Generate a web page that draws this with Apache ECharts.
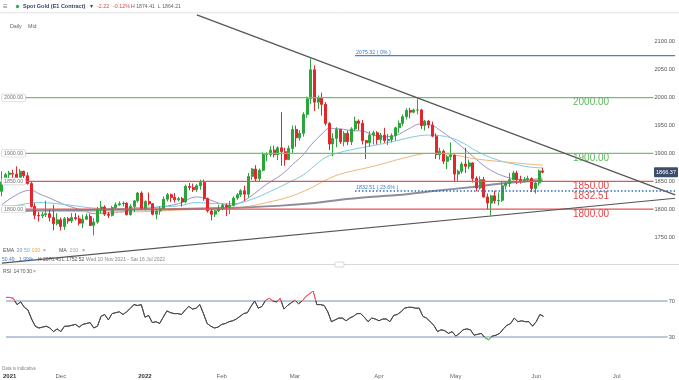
<!DOCTYPE html>
<html><head><meta charset="utf-8">
<script src="https://cdn.jsdelivr.net/npm/echarts@6/dist/echarts.min.js"></script>
<style>html,body{margin:0;padding:0;background:#fff}#c{width:679px;height:380px}</style>
</head><body><div id="c"></div>
<script>
const FONT = '"Liberation Sans", Arial, sans-serif';

// ---- categories: trading weekdays from 10 Nov 2021 ----
const categoryCount = 184;
const dates = [];
(function () {
  const d = new Date(Date.UTC(2021, 10, 10));
  while (dates.length < categoryCount) {
    const wd = d.getUTCDay();
    if (wd !== 0 && wd !== 6) dates.push(d.toISOString().slice(0, 10));
    d.setUTCDate(d.getUTCDate() + 1);
  }
})();
const monthNames = ['Jan','Feb','Mar','Apr','May','Jun','Jul','Aug','Sep','Oct','Nov','Dec'];

// ---- daily candles [open, close, low, high] ----
const candles = [
  // Nov 2021
  [1832,1849,1823,1868],[1849,1862,1846,1865],[1862,1865,1853,1869],[1864,1863,1856,1871],[1863,1851,1849,1877],
  [1851,1868,1850,1872],[1868,1860,1849,1869],[1860,1846,1844,1866],[1846,1805,1803,1850],[1805,1789,1782,1811],
  [1789,1788,1778,1795],[1788,1790,1784,1795],[1790,1792,1786,1815],[1792,1785,1778,1800],[1785,1774,1762,1808],
  // Dec 2021
  [1774,1781,1771,1793],[1781,1769,1762,1785],[1769,1783,1763,1786],[1783,1779,1774,1786],[1779,1785,1775,1793],
  [1785,1783,1780,1793],[1783,1775,1771,1789],[1775,1782,1766,1790],[1782,1787,1781,1792],[1787,1771,1770,1792],
  [1771,1777,1753,1784],[1777,1799,1774,1804],[1799,1804,1793,1815],[1804,1791,1788,1807],[1791,1789,1784,1795],
  [1789,1803,1787,1806],[1803,1808,1801,1812],[1808,1810,1806,1814],[1810,1811,1805,1814],[1811,1790,1789,1812],
  [1790,1805,1789,1809],[1805,1815,1795,1816],[1815,1829,1812,1831],
  // Jan 2022
  [1829,1801,1799,1832],[1801,1814,1798,1816],[1814,1810,1807,1830],[1810,1791,1789,1811],[1791,1797,1782,1800],
  [1797,1801,1790,1805],[1801,1818,1801,1823],[1818,1826,1814,1829],[1826,1821,1813,1828],[1821,1817,1812,1829],
  [1817,1819,1814,1822],[1819,1813,1805,1822],[1813,1841,1811,1844],[1841,1839,1834,1847],[1839,1835,1831,1846],
  [1835,1842,1831,1845],[1842,1848,1835,1853],[1848,1819,1815,1853],[1819,1797,1794,1821],[1797,1791,1780,1800],
  [1791,1797,1786,1799],
  // Feb 2022
  [1797,1801,1795,1808],[1801,1807,1798,1810],[1807,1804,1788,1810],[1804,1807,1791,1815],[1807,1820,1805,1823],
  [1820,1826,1817,1829],[1826,1833,1822,1836],[1833,1827,1815,1842],[1827,1859,1821,1865],[1859,1872,1853,1874],
  [1872,1855,1849,1879],[1855,1870,1850,1873],[1870,1898,1868,1902],[1898,1898,1886,1902],[1898,1906,1894,1913],
  [1906,1898,1893,1914],[1898,1910,1888,1913],[1910,1903,1878,1974],[1903,1889,1878,1910],[1889,1909,1888,1914],
  // Mar 2022
  [1909,1943,1899,1950],[1943,1928,1912,1950],[1928,1936,1923,1942],[1936,1970,1930,1974],[1970,1998,1964,2002],
  [1998,2050,1989,2070.45],[2050,1992,1976,2058],[1992,2000,1980,2004],[2000,1988,1968,2009],[1988,1954,1950,1992],
  [1954,1917,1906,1956],[1917,1927,1895,1936],[1927,1943,1911,1947],[1943,1921,1917,1944],[1921,1936,1913,1940],
  [1936,1921,1915,1941],[1921,1944,1915,1947],[1944,1958,1940,1966],[1958,1954,1942,1961],[1954,1923,1916,1960],
  [1923,1919,1890,1924],[1919,1933,1912,1940],[1933,1937,1916,1941],
  // Apr 2022
  [1937,1925,1916,1940],[1925,1933,1918,1937],[1933,1923,1919,1946],[1923,1925,1915,1935],[1925,1932,1920,1936],
  [1932,1946,1923,1948],[1946,1954,1937,1959],[1954,1966,1949,1970],[1966,1977,1961,1981],[1977,1974,1963,1982],
  [1974,1978,1972,1980],[1978,1978,1970,1998],[1978,1950,1944,1980],[1950,1958,1941,1960],[1958,1951,1945,1960],
  [1951,1931,1929,1957],[1931,1898,1890,1936],[1898,1904,1889,1910],[1904,1886,1881,1907],[1886,1894,1872,1897],
  [1894,1897,1888,1920],
  // May 2022
  [1897,1863,1850,1898],[1863,1868,1850,1871],[1868,1881,1864,1885],[1881,1877,1865,1910],[1877,1883,1872,1889],
  [1883,1855,1848,1884],[1855,1838,1832,1859],[1838,1853,1835,1859],[1853,1822,1821,1858],[1822,1811,1799,1828],
  [1811,1824,1789,1826],[1824,1815,1810,1833],[1815,1816,1807,1830],[1816,1842,1813,1849],[1842,1846,1835,1849],
  [1846,1853,1840,1865],[1853,1865,1852,1869],[1865,1853,1845,1869],[1853,1851,1846,1860],[1851,1853,1848,1858],
  [1853,1855,1850,1860],[1855,1837,1831,1857],
  // Jun 2022
  [1837,1847,1828,1849],[1847,1868.59,1842,1871],[1868.59,1866.37,1864.21,1874.41]
];

// ---- moving averages [categoryIndex, value] ----
const ema20 = [[0,1808],[3,1822],[6,1832],[8,1834],[10,1828],[13,1820],[15,1814],[18,1806],[22,1798],[25,1792],[28,1793],[32,1795],[37,1800],[40,1802],[44,1805],[48,1810],[53,1822],[56,1818],[59,1811],[62,1807],[65,1812],[68,1825],[72,1845],[76,1862],[79,1880],[82,1898],[84,1915],[87,1935],[89,1945],[92,1944],[95,1941],[98,1940],[101,1933],[104,1930],[107,1932],[110,1942],[114,1953],[117,1950],[119,1942],[122,1928],[125,1912],[128,1895],[131,1878],[134,1866],[137,1858],[140,1854],[143,1853],[147,1856]];
const ema50 = [[0,1800],[5,1808],[10,1812],[15,1810],[20,1806],[25,1802],[30,1801],[37,1803],[42,1804],[48,1806],[53,1812],[58,1810],[63,1810],[68,1818],[73,1832],[78,1848],[82,1862],[85,1878],[88,1893],[92,1902],[96,1908],[100,1913],[104,1918],[108,1924],[112,1930],[116,1933],[119,1932],[122,1928],[125,1920],[128,1908],[131,1898],[134,1890],[137,1884],[140,1880],[143,1876],[147,1874]];
const ema100 = [[0,1795],[10,1797],[20,1796],[30,1795],[40,1796],[50,1799],[58,1800],[65,1803],[72,1812],[78,1822],[84,1838],[88,1852],[92,1863],[101,1877],[110,1893],[116,1900],[119,1900],[124,1896],[128,1891],[133,1887],[138,1884],[143,1881],[147,1879]];
const ma200 = [[0,1797],[15,1798],[30,1799],[45,1800],[60,1802],[75,1806],[85,1811],[92,1817],[100,1822],[110,1827],[118,1833],[128,1840],[137,1847],[147,1852]];

// ---- RSI(14) ----
const rsi = [74,74,73,66,69,63,60,50,42,40,41,42,40,36,39,
  36,42,42,43,44,41,44,45,46,40,42,53,55,49,56,57,58,55,58,62,66,65,66,
  52,54,46,47,45,52,59,57,56,56,55,60,64,61,62,66,56,45,42,40,41,
  44,45,47,48,50,53,56,57,64,70,62,64,71,73,70,69,73,61,65,68,
  71,67,70,75,78,81,66,66,65,58,47,49,51,51,48,51,53,56,56,52,47,51,50,
  48,50,50,47,54,55,58,62,63,63,62,62,53,51,47,43,36,38,37,34,36,
  31,34,38,39,38,32,33,34,29,27,31,32,34,39,43,45,51,47,48,47,47,42,
  47,55,53];

// ---- levels & drawings ----
const greenLevels = [2000, 1900];
const redLevels = [1850, 1800];
const fibStartIndex = 96;
const fibLevels = [2075.32, 1832.51];
const fibLabels = ['2075.32 ( 0% )', '1832.51 ( 23.6% )'];
const bigLabels = [[2000,'2000.00','#5cb85c'],[1900,'1900.00','#5cb85c'],[1850,'1850.00','#e2474b'],[1832.51,'1832.51','#e2474b'],[1800,'1800.00','#e2474b']];
const boxedLeftLabels = [2000, 1900, 1850, 1800];
const downTrend = [[53, 2148.5], [183, 1825.7]];
const upTrend = [[0, 1703.5], [183, 1819.7]];
const priceTicks = [1750, 1800, 1850, 1900, 1950, 2000, 2050, 2100];
const rsiBands = [70, 30];

const lastCandle = candles[candles.length - 1];
const lastClose = lastCandle[1];
const lastIdx = categoryCount - 1;

const chart = echarts.init(document.getElementById('c'), null, {renderer: 'canvas'});

const drawLine = (data, color, width, type, z) => ({
  type: 'line', xAxisIndex: 0, yAxisIndex: 0, data: data, showSymbol: false, symbol: 'none',
  itemStyle: {color: color},
  lineStyle: {color: color, width: width, type: type || 'solid', opacity: 1}, silent: true, z: z || 6
});
const maLine = (data, color, width) => Object.assign(drawLine(data, color, width, 'solid', 3), {smooth: 0.4});

const series = [
  {type: 'line', xAxisIndex: 1, yAxisIndex: 1, data: rsi, showSymbol: false, symbol: 'none',
   lineStyle: {width: 1}, silent: true, z: 4},
  {type: 'candlestick', xAxisIndex: 0, yAxisIndex: 0, data: candles, barWidth: 2.5, z: 4,
   itemStyle: {color: '#2ba53b', color0: '#e3262c', borderColor: '#2ba53b', borderColor0: '#e3262c', borderWidth: 1}},
  maLine(ema20, '#9b90c8', 1),
  maLine(ema50, '#7dcbe0', 1),
  maLine(ema100, '#ecb879', 1),
  maLine(ma200, '#8d8d9b', 2)
];
greenLevels.forEach(v => series.push(drawLine([[0, v], [lastIdx, v]], '#6cc46c', 1.2)));
redLevels.forEach(v => series.push(drawLine([[0, v], [lastIdx, v]], '#e25656', 1.2)));
series.push(drawLine([[fibStartIndex, fibLevels[0]], [lastIdx, fibLevels[0]]], '#3f86d6', 1.3));
series.push(drawLine([[fibStartIndex, fibLevels[1]], [lastIdx, fibLevels[1]]], '#2b6cc0', 1.5, [1.5, 2]));
series.push(drawLine(downTrend, '#555', 1.2));
series.push(drawLine(upTrend, '#555', 1.2));
rsiBands.forEach(v => series.push({type: 'line', xAxisIndex: 1, yAxisIndex: 1, data: [[0, v], [lastIdx, v]],
  showSymbol: false, symbol: 'none', silent: true, z: 2, lineStyle: {color: '#b9c9db', width: 2}}));

const option = {
  animation: false,
  backgroundColor: '#fff',
  textStyle: {fontFamily: FONT},
  grid: [
    {left: 0, right: 2, top: 14, height: 251},
    {left: 0, right: 2, top: 274, height: 90}
  ],
  xAxis: [
    {type: 'category', gridIndex: 0, data: dates, boundaryGap: true,
     axisLine: {show: false}, axisTick: {show: false}, axisLabel: {show: false}, splitLine: {show: false}},
    {type: 'category', gridIndex: 1, data: dates, boundaryGap: true,
     axisLine: {show: false}, axisTick: {show: false}, splitLine: {show: false},
     axisLabel: {
       show: true, fontSize: 6, color: '#666', margin: 9, fontFamily: FONT,
       interval: function (i) {
         if (i === 1) return true;
         if (i < 2) return false;
         return dates[i].slice(5, 7) !== dates[i - 1].slice(5, 7);
       },
       formatter: function (v, i) {
         if (i === 1) return '{y|2021}';
         const m = +v.slice(5, 7);
         if (m === 1) return '{y|' + v.slice(0, 4) + '}';
         return monthNames[m - 1];
       },
       rich: {y: {fontSize: 6, fontWeight: 'bold', color: '#333', fontFamily: FONT}}
     }}
  ],
  yAxis: [
    {type: 'value', gridIndex: 0, position: 'right', min: 1700, max: 2150, interval: 50, z: 10,
     axisLine: {show: false}, axisTick: {show: false}, splitLine: {show: false},
     axisLabel: {inside: true, margin: 1, fontSize: 5.7, color: '#555', fontFamily: FONT,
       backgroundColor: '#fff', padding: [0, 1],
       formatter: v => priceTicks.indexOf(v) >= 0 ? v.toFixed(2) : ''}},
    {type: 'value', gridIndex: 1, position: 'right', min: 0, max: 100, interval: 10, z: 10,
     axisLine: {show: false}, axisTick: {show: false}, splitLine: {show: false},
     axisLabel: {inside: true, margin: 1, fontSize: 5.7, color: '#555', fontFamily: FONT,
       backgroundColor: '#fff', padding: [0, 1],
       formatter: v => rsiBands.indexOf(v) >= 0 ? String(v) : ''}}
  ],
  visualMap: {
    type: 'piecewise', show: false, seriesIndex: 0, dimension: 1,
    pieces: [{gt: 70, color: '#ec5c5e'}, {lt: 30, color: '#4cbb4c'}, {gte: 30, lte: 70, color: '#4a4a4a'}]
  },
  series: series
};
chart.setOption(option);

// ---- text overlays positioned through the chart's scales ----
const py = v => chart.convertToPixel({yAxisIndex: 0}, v);
const px = i => chart.convertToPixel({xAxisIndex: 0}, i);
const T = (text, x, y, size, fill, extra) => ({
  type: 'text', z: 100, silent: true,
  style: Object.assign({text: text, x: x, y: y, fontSize: size, fontFamily: FONT, fill: fill,
    align: 'left', verticalAlign: 'middle', textAlign: 'left', textVerticalAlign: 'middle'}, extra || {})
});

const g = [];
// header
g.push({type: 'line', z: 90, silent: true, shape: {x1: 0, y1: 12.8, x2: 679, y2: 12.8}, style: {stroke: '#e2e2e2', lineWidth: 1}});
g.push(T('\u2261', 3, 6.5, 8, '#777'));
g.push({type: 'circle', z: 100, silent: true, shape: {cx: 17.5, cy: 6.5, r: 1.7}, style: {fill: '#2bb24c'}});
g.push(T('Spot Gold (E1 Contract)', 23, 6.5, 5.5, '#2d3f6b', {fontWeight: 'bold'}));
g.push(T('\u25BE', 89.5, 6.8, 6, '#444'));
g.push(T('-2.22', 97, 6.5, 5.4, '#e0474c'));
g.push(T('-0.12%', 113, 6.5, 5.4, '#e0474c'));
g.push(T('H 1874.41  L 1864.21', 131, 6.5, 5.2, '#666'));
g.push(T('Daily', 10, 26.7, 5.3, '#666'));
g.push(T('Mid', 28, 26.7, 5.3, '#666'));

// legends
const L1 = 251, L2 = 260, FS = 5.2;
g.push(T('EMA', 3, L1, FS, '#555'));
g.push(T('20', 16.5, L1, FS, '#8a86b8'));
g.push(T('50', 24, L1, FS, '#4fb6d6'));
g.push(T('100', 31.5, L1, FS, '#eca24a'));
g.push(T('\u00D7', 43, L1, FS, '#777'));
g.push(T('MA', 59, L1, FS, '#555'));
g.push(T('200', 69.5, L1, FS, '#aaa'));
g.push(T('\u00D7', 82, L1, FS, '#777'));
g.push(T('50.49', 2, L2, 5, '#3b7cc9'));
g.push(T('1.99%', 19, L2, 5, '#3b7cc9'));
g.push(T('H 2070.45', 38, L2, 5, '#555'));
g.push(T('L 1752.52', 62, L2, 5, '#555'));
g.push(T('Wed 10 Nov 2021 - Sat 16 Jul 2022', 86, L2, 5, '#888'));
g.push({type: 'line', z: 90, silent: true, shape: {x1: 0, y1: 264.5, x2: 679, y2: 264.5}, style: {stroke: '#d8d8d8', lineWidth: 1}});
g.push({type: 'rect', z: 91, silent: true, shape: {x: 335, y: 262, width: 9, height: 5, r: 1.5}, style: {fill: '#fff', stroke: '#bbb', lineWidth: 0.6}});
g.push(T('RSI', 3, 271.5, 5, '#555'));
g.push(T('14', 13.5, 271.5, 5, '#555'));
g.push(T('70', 20, 271.5, 5, '#555'));
g.push(T('30', 26.5, 271.5, 5, '#555'));
g.push(T('\u00D7', 33, 271.5, 5, '#777'));
g.push(T('Data is indicative', 2, 369, 4.5, '#888'));

// left boxed level labels
boxedLeftLabels.forEach(v => g.push(T(v.toFixed(2), 2, py(v), 5.3, '#777', {
  backgroundColor: '#fff', borderColor: '#c8c8c8', borderWidth: 0.6, borderRadius: 1, padding: [1, 2, 0.5, 2]
})));
// fib labels
fibLevels.forEach((v, i) => g.push(T(fibLabels[i], px(fibStartIndex) + 1, py(v) - 3.5, 5.3, '#3b7cc9')));
// big level labels
bigLabels.forEach(b => g.push(T(b[1], 573, py(b[0]) + 4.8, 10, b[2])));
// current price box
const yp = py(lastClose);
g.push({type: 'rect', z: 100, silent: true, shape: {x: 654, y: yp - 5, width: 24, height: 10, r: 1}, style: {fill: '#3d4e6c'}});
g.push(T(lastClose.toFixed(2), 666, yp, 5.5, '#fff', {align: 'center', textAlign: 'center'}));

chart.setOption({graphic: g});
</script>
</body></html>
